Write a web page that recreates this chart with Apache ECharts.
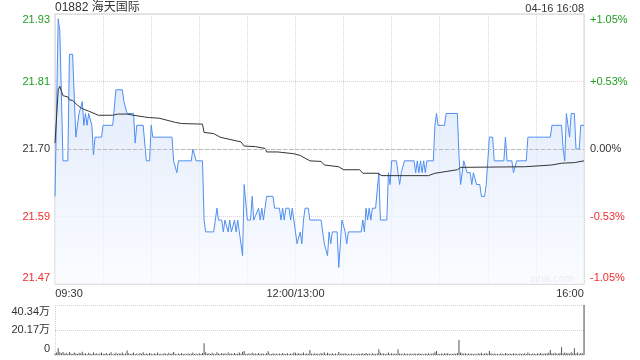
<!DOCTYPE html>
<html><head><meta charset="utf-8">
<script src="https://cdn.jsdelivr.net/npm/echarts@6/dist/echarts.min.js"></script>
<style>html,body{margin:0;padding:0;background:#fff}#c{width:640px;height:360px}</style>
</head><body><div id="c"></div>
<script>
// ---- data ----
const stockTitle = '01882 海天国际';
const stampText = '04-16 16:08';
const prevClose = 21.70;
const priceAxisMax = 21.928;          // +1.05%
const timeTickMinutes = [0, 150, 330];
const timeTickLabels = ['09:30', '12:00/13:00', '16:00'];
const volumeAxisMaxWan = 40.34;

// [minute of session, price]
const pricePoints = [
 [0,21.62],[2,21.92],[3,21.90],[4,21.90],[5,21.68],[8,21.68],[9,21.86],[11,21.86],[13,21.72],[15,21.76],
 [16,21.76],[17,21.78],[18,21.74],[19,21.76],[20,21.74],[21,21.76],[22,21.76],[23,21.74],[24,21.69],[25,21.72],
 [29,21.72],[30,21.74],[36,21.74],[38,21.80],[42,21.80],[43,21.78],[45,21.76],[49,21.76],[50,21.71],[51,21.74],
 [55,21.74],[57,21.68],[59,21.68],[60,21.74],[61,21.72],[73,21.72],[74,21.68],[75,21.68],[76,21.66],[77,21.68],
 [85,21.68],[86,21.70],[87,21.70],[88,21.68],[92,21.68],[93,21.58],[94,21.56],[99,21.56],[101,21.60],[102,21.58],
 [104,21.58],[105,21.56],[106,21.58],[108,21.56],[109,21.58],[110,21.56],[112,21.58],[113,21.56],[114,21.58],[115,21.56],
 [117,21.52],[118,21.64],[120,21.58],[122,21.58],[123,21.62],[124,21.58],[125,21.58],[127,21.60],[128,21.58],[129,21.60],
 [130,21.58],[131,21.58],[132,21.62],[136,21.62],[137,21.60],[140,21.60],[141,21.58],[142,21.60],[143,21.58],[144,21.60],
 [146,21.60],[147,21.58],[148,21.60],[149,21.60],[150,21.56],[151,21.54],[152,21.54],[153,21.56],[154,21.54],[155,21.58],
 [156,21.60],[158,21.60],[159,21.58],[166,21.58],[168,21.54],[169,21.54],[170,21.52],[171,21.56],[172,21.54],[173,21.56],
 [176,21.56],[177,21.50],[179,21.58],[180,21.58],[181,21.56],[182,21.54],[183,21.56],[191,21.56],[192,21.58],[193,21.56],
 [194,21.60],[195,21.58],[196,21.60],[197,21.58],[198,21.60],[200,21.60],[202,21.66],[203,21.58],[207,21.58],[208,21.66],
 [209,21.64],[210,21.68],[213,21.68],[214,21.66],[215,21.64],[216,21.66],[218,21.68],[224,21.68],[225,21.66],[226,21.68],
 [227,21.66],[228,21.68],[229,21.66],[230,21.68],[231,21.66],[232,21.68],[236,21.68],[237,21.74],[238,21.76],[239,21.74],
 [243,21.74],[244,21.76],[251,21.76],[252,21.69],[253,21.64],[254,21.64],[255,21.68],[256,21.68],[257,21.66],[259,21.66],
 [260,21.64],[261,21.66],[263,21.64],[265,21.64],[266,21.62],[268,21.62],[269,21.64],[270,21.64],[271,21.72],[273,21.72],
 [274,21.68],[280,21.68],[281,21.72],[282,21.68],[285,21.68],[286,21.66],[288,21.68],[294,21.68],[295,21.72],[309,21.72],
 [310,21.74],[316,21.74],[317,21.70],[318,21.68],[319,21.76],[321,21.72],[322,21.76],[324,21.76],[325,21.70],[327,21.70],
 [328,21.74],[330,21.74]
];

// [minute of session, average price]
const avgPoints = [
 [0,21.71],[2,21.80],[3,21.806],[4,21.805],[5,21.79],[8,21.788],[9,21.783],[11,21.782],[14,21.774],[16,21.770],
 [18,21.767],[21,21.764],[27,21.757],[36,21.757],[39,21.759],[45,21.759],[49,21.757],[56,21.754],[59,21.753],[65,21.752],
 [66,21.749],[75,21.745],[79,21.743],[92,21.742],[93,21.728],[99,21.726],[103,21.720],[106,21.718],[116,21.712],[118,21.705],
 [125,21.704],[131,21.701],[132,21.695],[139,21.695],[149,21.692],[153,21.689],[159,21.680],[166,21.679],[168,21.673],[177,21.670],
 [180,21.665],[190,21.665],[192,21.659],[201,21.659],[204,21.655],[233,21.655],[237,21.659],[244,21.662],[251,21.665],[253,21.669],
 [293,21.670],[310,21.673],[316,21.676],[324,21.677],[330,21.680]
];

// volume per minute, in 万 (10k shares)
const volumeWan = [
 1.2,2.0,5.4,2.2,1.5,2.5,1.0,1.8,0.9,2.4,
 1.3,0.8,2.1,1.5,0.9,1.9,1.2,2.6,1.0,1.4,
 0.7,1.8,1.1,0.9,2.2,1.0,1.5,0.6,1.3,2.0,
 1.1,0.8,1.6,0.9,1.2,2.3,0.7,1.0,1.9,0.8,
 1.4,1.0,2.1,0.9,1.2,3.6,1.5,0.8,1.1,2.0,
 0.9,1.3,0.7,1.6,1.0,2.2,0.8,1.2,0.9,1.7,
 1.0,0.6,1.4,0.9,2.1,0.8,1.1,0.7,1.5,1.0,
 0.8,1.8,0.9,1.2,2.4,1.0,0.7,1.3,0.9,1.6,
 0.8,1.1,0.6,1.5,0.9,1.0,2.0,0.8,1.2,0.7,
 1.4,0.9,1.6,9.4,2.2,1.0,1.5,0.8,1.9,1.1,
 0.9,2.3,1.2,0.8,1.7,1.0,1.4,0.7,2.1,1.0,
 1.3,0.8,1.6,0.9,1.2,2.0,1.0,2.6,3.2,1.1,
 0.9,1.5,0.7,1.8,1.0,1.2,0.8,1.6,0.9,1.3,
 1.0,0.7,1.4,3.1,1.1,0.8,1.5,0.9,1.2,0.6,
 1.3,0.9,1.7,0.8,1.1,1.5,0.7,1.2,0.9,2.0,
 1.8,1.0,1.4,0.8,1.2,2.1,0.9,1.3,1.0,4.0,
 1.1,0.8,1.5,0.9,1.2,0.7,1.6,1.0,2.2,0.9,
 1.9,1.1,0.8,1.4,0.9,1.2,0.7,2.4,1.0,1.3,
 0.9,1.5,0.8,1.1,0.7,1.3,0.9,1.0,0.6,1.2,
 0.8,1.0,1.4,0.9,1.6,0.8,1.2,0.7,1.5,1.0,
 0.9,1.3,4.6,1.8,1.0,1.2,0.8,1.1,2.0,0.9,
 1.4,0.8,1.2,0.9,4.6,1.3,1.0,0.7,1.5,0.9,
 1.1,0.8,1.3,0.7,1.2,1.0,0.9,1.4,0.8,1.1,
 0.7,1.2,0.9,1.5,0.8,1.0,1.3,2.2,3.2,1.1,
 0.9,1.2,0.8,1.4,1.0,1.7,0.8,1.1,0.9,1.3,
 1.0,1.6,12.1,2.1,1.4,1.0,1.5,0.9,1.2,0.8,
 1.3,0.9,1.1,0.7,1.4,1.0,1.8,0.9,1.2,1.5,
 1.0,3.2,1.4,0.8,1.2,0.9,1.1,0.7,1.3,1.0,
 0.9,1.6,1.0,0.8,1.2,0.9,1.4,1.0,1.1,0.8,
 1.3,0.9,1.0,1.5,0.8,2.0,1.1,0.9,1.2,1.0,
 0.8,1.3,1.0,1.6,0.9,1.2,1.0,1.4,1.8,4.0,
 1.5,1.1,1.9,1.0,1.3,1.6,6.2,1.2,2.0,1.4,
 1.7,1.1,2.3,1.5,5.4,1.2,2.1,1.0,1.6,1.3,
 40.34
];

// ---- chart ----
const FONT = 'Arial, "Liberation Sans", "Noto Sans CJK SC", sans-serif';
const GREEN = '#1e9e1e', RED = '#f02b2b', DARK = '#333';
const half = +(priceAxisMax - prevClose).toFixed(3);
const step = +(half / 2).toFixed(3);
const lastMinute = timeTickMinutes[timeTickMinutes.length - 1];
const volMax = Math.round(volumeAxisMaxWan * 10000);

function near(a, b) { return Math.abs(a - b) < 1e-6; }
function tag(v) {
  if (near(v, half)) return 'gt';
  if (near(v, -half)) return 'rb';
  if (v > 1e-6) return 'g';
  if (v < -1e-6) return 'r';
  return 'k';
}
const baseTxt = { fontSize: 11, fontFamily: FONT };
const richY = {
  gt: Object.assign({ color: GREEN, padding: [12, 0, 0, 0] }, baseTxt),
  g: Object.assign({ color: GREEN }, baseTxt),
  k: Object.assign({ color: DARK }, baseTxt),
  r: Object.assign({ color: RED }, baseTxt),
  rb: Object.assign({ color: RED, padding: [0, 0, 12, 0] }, baseTxt)
};

const chart = echarts.init(document.getElementById('c'), null, { renderer: 'canvas' });
chart.setOption({
  animation: false,
  textStyle: { fontFamily: FONT },
  title: [
    { text: stockTitle, left: 55, top: 2, padding: 0,
      textStyle: { fontSize: 12, fontWeight: 'normal', color: DARK, fontFamily: FONT } },
    { text: stampText, right: 56, top: 3, padding: 0,
      textStyle: { fontSize: 11, fontWeight: 'normal', color: DARK, fontFamily: FONT } }
  ],
  graphic: [{
    type: 'text', right: 66, top: 273, silent: true,
    style: { text: 'sina.com', fill: '#cfcfcf', fontSize: 11, fontFamily: FONT }
  }],
  grid: [
    { left: 55, top: 14, width: 529, height: 270, show: true, borderColor: '#cfcfcf', borderWidth: 1, backgroundColor: 'transparent' },
    { left: 55, top: 305, width: 529, height: 50 }
  ],
  xAxis: [
    { type: 'value', gridIndex: 0, min: 0, max: lastMinute, interval: 30,
      axisLine: { show: false }, axisTick: { show: false },
      splitLine: { show: true, lineStyle: { type: 'dotted', color: '#d8d8d8' } },
      axisLabel: {
        margin: 4, color: DARK, fontSize: 11, fontFamily: FONT,
        formatter: function (v) {
          const i = timeTickMinutes.indexOf(Math.round(v));
          if (i < 0) return '';
          if (i === 0) return '{l|' + timeTickLabels[i] + '}';
          if (i === timeTickMinutes.length - 1) return '{rr|' + timeTickLabels[i] + '}';
          return '{c|' + timeTickLabels[i] + '}';
        },
        rich: {
          l: Object.assign({ color: DARK, padding: [0, 0, 0, 28] }, baseTxt),
          c: Object.assign({ color: DARK }, baseTxt),
          rr: Object.assign({ color: DARK, padding: [0, 28, 0, 0] }, baseTxt)
        }
      } },
    { type: 'value', gridIndex: 1, min: 0, max: lastMinute, interval: lastMinute,
      axisLine: { show: false }, axisTick: { show: false }, axisLabel: { show: false },
      splitLine: { show: true, lineStyle: { type: 'dotted', color: '#cfcfcf' } } }
  ],
  yAxis: [
    { type: 'value', gridIndex: 0, min: -half, max: half, interval: step,
      axisLine: { show: false }, axisTick: { show: false },
      splitLine: { show: true, lineStyle: { type: 'dotted', color: '#d8d8d8' } },
      axisLabel: { margin: 5, formatter: function (v) {
        return '{' + tag(v) + '|' + (prevClose + v).toFixed(2) + '}';
      }, rich: richY } },
    { type: 'value', gridIndex: 0, position: 'right', min: -half, max: half, interval: step,
      axisLine: { show: false }, axisTick: { show: false }, splitLine: { show: false },
      axisLabel: { margin: 6, formatter: function (v) {
        const pct = v / prevClose * 100;
        let s = Math.abs(pct).toFixed(2) + '%';
        if (pct > 1e-6) s = '+' + s; else if (pct < -1e-6) s = '-' + s;
        return '{' + tag(v) + '|' + s + '}';
      }, rich: richY } },
    { type: 'value', gridIndex: 1, min: 0, max: volMax, interval: volMax / 2,
      axisLine: { show: false }, axisTick: { show: false },
      splitLine: { show: true, lineStyle: { type: 'dotted', color: '#cfcfcf' } },
      axisLabel: { margin: 5, formatter: function (v) {
        if (v === 0) return '{vb|0}';
        const s = (v / 10000).toFixed(2) + '万';
        return near(v, volMax) ? '{vt|' + s + '}' : '{v|' + s + '}';
      }, rich: {
        vt: Object.assign({ color: DARK, padding: [13, 0, 0, 0] }, baseTxt),
        v: Object.assign({ color: DARK }, baseTxt),
        vb: Object.assign({ color: DARK, padding: [0, 0, 13, 0] }, baseTxt)
      } } }
  ],
  series: [
    { type: 'line', name: 'price', xAxisIndex: 0, yAxisIndex: 0,
      data: pricePoints.map(function (d) { return [d[0], +(d[1] - prevClose).toFixed(4)]; }),
      showSymbol: false, symbol: 'none',
      lineStyle: { color: '#4f8ef0', width: 1 },
      areaStyle: { origin: 'start', color: new echarts.graphic.LinearGradient(0, 0, 0, 1, [
        { offset: 0, color: 'rgb(200,218,249)' },
        { offset: 0.5, color: 'rgb(226,235,251)' },
        { offset: 1, color: 'rgb(247,250,255)' }
      ]) },
      markLine: { silent: true, symbol: ['none', 'none'], label: { show: false },
        lineStyle: { type: 'dashed', color: '#b9b9b9', width: 1 },
        data: [{ yAxis: 0 }] },
      z: 3 },
    { type: 'line', name: 'avg', xAxisIndex: 0, yAxisIndex: 0,
      data: avgPoints.map(function (d) { return [d[0], +(d[1] - prevClose).toFixed(4)]; }),
      showSymbol: false, symbol: 'none',
      lineStyle: { color: '#333', width: 1 }, z: 4 },
    { type: 'bar', name: 'volume', xAxisIndex: 1, yAxisIndex: 2,
      data: volumeWan.map(function (v, i) { return [i, Math.round(v * 10000)]; }),
      barWidth: 1, itemStyle: { color: '#555' }, z: 3 }
  ]
});
</script>
</body></html>
